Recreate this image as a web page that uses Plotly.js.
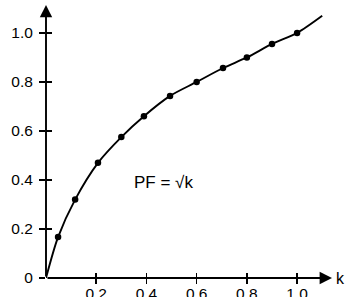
<!DOCTYPE html>
<html><head><meta charset="utf-8">
<script src="https://cdn.plot.ly/plotly-3.0.1.min.js"></script>
<style>html,body{margin:0;padding:0;background:#fff}#c{width:345px;height:297px}</style>
</head><body><div id="c"></div>
<script>
// curve PF = sqrt(k) as drawn (k, PF)
const curveK  = [0, 0.048, 0.116, 0.207, 0.30, 0.39, 0.494, 0.60, 0.705, 0.80, 0.90, 1.0, 1.10];
const curvePF = [0, 0.167, 0.32, 0.47, 0.575, 0.66, 0.743, 0.80, 0.857, 0.90, 0.955, 1.0, 1.07];
// plotted points
const markK  = [0.048, 0.116, 0.207, 0.30, 0.39, 0.494, 0.60, 0.705, 0.80, 0.90, 1.0];
const markPF = [0.167, 0.32, 0.47, 0.575, 0.66, 0.743, 0.80, 0.857, 0.90, 0.955, 1.0];
const xTicks = [0.2, 0.4, 0.6, 0.8, 1.0];
const xTickText = ['0.2', '0.4', '0.6', '0.8', '1.0'];
const yTicks = [0, 0.2, 0.4, 0.6, 0.8, 1.0];
const yTickText = ['0', '0.2', '0.4', '0.6', '0.8', '1.0'];
const formula = 'PF = √k';
const xName = 'k';

const xMax = 1.139, yMax = 1.114;
const font = {family: 'Arial, "Liberation Sans", sans-serif', size: 15.5, color: '#000'};

const traces = [
  {x: curveK, y: curvePF, mode: 'lines', line: {color: '#000', width: 1.9, shape: 'spline', smoothing: 0.8},
   hoverinfo: 'skip', showlegend: false},
  {x: markK, y: markPF, xaxis: 'x2', yaxis: 'y2', mode: 'markers',
   marker: {color: '#000', size: 6.5}, showlegend: false, cliponaxis: false}
];

const axBase = {showgrid: false, zeroline: false, showline: false, ticklen: 5, tickwidth: 1.6, tickcolor: '#000', tickfont: font};
const layout = {
  width: 345, height: 297,
  margin: {l: 46, r: 13, t: 5, b: 19, pad: 0},
  paper_bgcolor: '#fff', plot_bgcolor: '#fff',
  font: font,
  xaxis: Object.assign({}, axBase, {range: [0, xMax], tickmode: 'array', tickvals: xTicks, ticktext: xTickText, ticks: 'outside', ticklabelstandoff: -4, fixedrange: true}),
  yaxis: Object.assign({}, axBase, {range: [0, yMax], tickmode: 'array', tickvals: yTicks, ticktext: yTickText, ticks: 'outside', ticklen: 6, ticklabelstandoff: 3, fixedrange: true}),
  xaxis2: Object.assign({}, axBase, {overlaying: 'x', matches: 'x', anchor: 'y2', range: [0, xMax], tickmode: 'array', tickvals: xTicks, ticks: 'inside', showticklabels: false}),
  yaxis2: Object.assign({}, axBase, {overlaying: 'y', matches: 'y', anchor: 'x2', range: [0, yMax], tickmode: 'array', tickvals: yTicks.slice(1), ticks: 'inside', ticklen: 6, showticklabels: false}),
  annotations: [
    {x: xMax, y: 0, ax: 0, ay: 0, xref: 'x', yref: 'y', axref: 'x', ayref: 'y', text: '', showarrow: true,
     arrowhead: 2, arrowsize: 1.3, arrowwidth: 1.9, arrowcolor: '#000', standoff: 0},
    {x: 0, y: yMax, ax: 0, ay: 0, xref: 'x', yref: 'y', axref: 'x', ayref: 'y', text: '', showarrow: true,
     arrowhead: 2, arrowsize: 1.3, arrowwidth: 1.9, arrowcolor: '#000', standoff: 0},
    {x: 1, y: 0, xref: 'paper', yref: 'y', xanchor: 'left', yanchor: 'middle', xshift: 2, text: xName, showarrow: false,
     font: {family: font.family, size: 16, color: '#000'}},
    {x: 0.466, y: 0.39, xref: 'x', yref: 'y', text: formula, showarrow: false,
     font: {family: font.family, size: 17, color: '#000'}}
  ]
};
Plotly.newPlot('c', traces, layout, {displayModeBar: false, staticPlot: true});
</script></body></html>
